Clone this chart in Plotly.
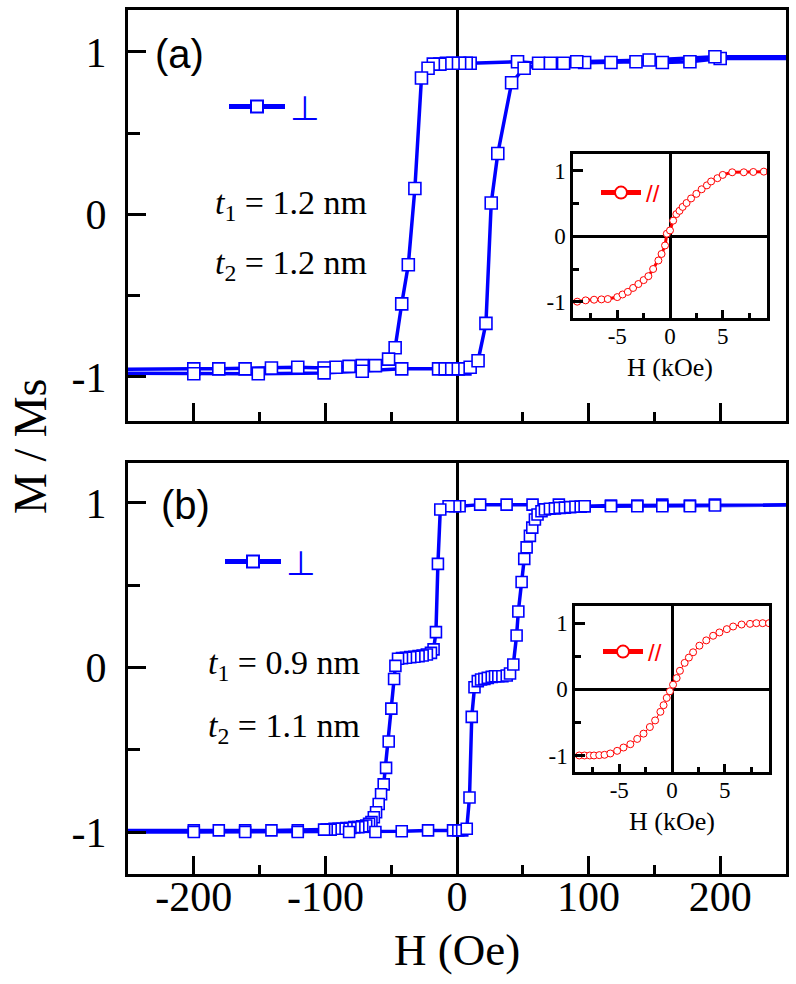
import plotly.graph_objects as go

# ---------------- data ----------------
# panel (a): perpendicular loop, descending branch (from +H to -H)
H_a_dn = [300, 200, 177, 156, 136, 117, 97, 81, 62, 46, 10, 7, 2, -3, -8, -13, -18, -22, -27,
          -32, -37, -42, -47, -52, -62, -72, -82, -92, -101, -121, -141, -161, -181, -200, -300]
M_a_dn = [0.96, 0.96, 0.94, 0.935, 0.94, 0.935, 0.935, 0.93, 0.93, 0.94, 0.93, 0.93, 0.93, 0.93,
          0.93, 0.925, 0.925, 0.90, 0.84, 0.16, -0.31, -0.55, -0.82, -0.89, -0.93, -0.93, -0.935,
          -0.94, -0.945, -0.94, -0.945, -0.95, -0.95, -0.95, -0.955]
# panel (a): ascending branch (from -H to +H)
H_a_up = [-300, -200, -151, -101, -72, -42, -14, -9, -4, 1, 6, 10, 16, 22, 26, 31, 41.5, 51,
          71, 91, 146, 196, 300]
M_a_up = [-0.975, -0.98, -0.98, -0.975, -0.965, -0.95, -0.95, -0.95, -0.95, -0.95, -0.95, -0.94,
          -0.90, -0.67, 0.07, 0.375, 0.81, 0.90, 0.93, 0.94, 0.95, 0.97, 0.97]

# panel (b): descending branch
H_b_dn = [300, 196, 177, 156, 137, 117, 97, 77.4, 57.4, 37.7, 17.6, 2, -1.4, -6.4, -12.7, -14.5,
          -16.0, -17.8, -19.8, -22.9, -26.1, -29.2, -32.4, -35.5, -38.8, -41.8, -44.8, -46.8,
          -47.8, -49.9, -51.9, -53.9, -55.7, -57.7, -59.5, -61.5, -63.2, -65.0, -66.8, -69, -72,
          -75, -78, -81, -84, -87, -90, -93, -96, -99, -101, -121, -141, -161, -181, -200, -300]
M_b_dn = [0.99, 0.99, 0.985, 0.99, 0.985, 0.985, 0.98, 0.99, 0.99, 0.99, 0.99, 0.98, 0.98, 0.98,
          0.96, 0.63, 0.215, 0.11, 0.089, 0.079, 0.073, 0.069, 0.065, 0.063, 0.059, 0.057, 0.053,
          0.01, -0.07, -0.25, -0.45, -0.61, -0.71, -0.77, -0.83, -0.88, -0.91, -0.94, -0.95,
          -0.96, -0.965, -0.97, -0.97, -0.975, -0.975, -0.98, -0.98, -0.98, -0.985, -0.985,
          -0.985, -0.99, -0.99, -0.99, -0.99, -0.99, -0.99]
# panel (b): ascending branch
H_b_up = [-300, -200, -161, -121, -82, -62, -42, -22, -3, 1, 4, 7.4, 9.5, 11.2, 13.3, 15.8, 18.3,
          20.8, 23.4, 26.4, 28.9, 31.4, 34.5, 37.8, 40.3, 42.8, 45.3, 46.6, 49.1, 51.1, 52.9,
          55.4, 57.2, 59.2, 61.2, 64.2, 66.8, 70.6, 74.4, 78, 82, 86, 90, 94, 97, 117, 137, 156,
          177, 196, 300]
M_b_up = [-1.0, -1.0, -1.0, -1.0, -1.0, -1.0, -0.995, -0.99, -0.99, -0.99, -0.99, -0.98, -0.79,
          -0.30, -0.12, -0.083, -0.073, -0.069, -0.063, -0.057, -0.053, -0.053, -0.053, -0.049,
          -0.036, 0.018, 0.195, 0.34, 0.52, 0.66, 0.73, 0.80, 0.85, 0.90, 0.93, 0.95, 0.96,
          0.965, 0.967, 0.97, 0.972, 0.975, 0.977, 0.978, 0.98, 0.98, 0.98, 0.98, 0.98, 0.985,
          0.99]

# insets: in-plane loops (kOe)
H_ia = [-9.5, -8.8, -8.0, -7.2, -6.5, -5.9, -5.0, -4.5, -4.0, -3.5, -3.0, -2.5, -2.05, -1.6, -1.1,
        -0.8, -0.47, -0.3, 0, 0.3, 0.6, 0.9, 1.2, 1.57, 2.0, 2.5, 3.0, 3.5, 3.9, 4.5, 5.0, 5.9,
        7.0, 7.9, 8.9, 9.5]
M_ia = [-1.0, -1.0, -0.98, -0.97, -0.965, -0.96, -0.93, -0.89, -0.85, -0.79, -0.73, -0.67, -0.61,
        -0.5, -0.37, -0.27, -0.14, 0.04, 0.09, 0.24, 0.34, 0.39, 0.45, 0.51, 0.58, 0.65, 0.72,
        0.78, 0.84, 0.89, 0.94, 0.98, 0.98, 0.985, 0.99, 0.99]
H_ib = [-9.5, -8.8, -8.3, -7.8, -7.4, -6.9, -6.4, -5.85, -5.2, -4.6, -3.95, -3.3, -2.7, -2.1, -1.6,
        -1.1, -0.8, -0.5, -0.2, 0.1, 0.44, 0.75, 1.2, 1.6, 2.0, 2.6, 3.25, 3.9, 4.5, 5.2, 5.8, 6.6,
        7.4, 8.0, 8.6, 9.2]
M_ib = [-1.0, -1.0, -1.0, -1.0, -1.0, -0.995, -0.99, -0.97, -0.93, -0.88, -0.83, -0.75, -0.67,
        -0.57, -0.47, -0.34, -0.24, -0.13, -0.03, 0.07, 0.17, 0.28, 0.40, 0.48, 0.56, 0.66, 0.74,
        0.81, 0.86, 0.91, 0.95, 0.98, 0.99, 1.0, 1.0, 1.0]

# tick labels
x_main_ticks = [-200, -100, 0, 100, 200]
x_main_labels = ["-200", "-100", "0", "100", "200"]
y_ticks = [-1, 0, 1]
y_labels = ["-1", "0", "1"]
x_in_ticks = [-5, 0, 5]
x_in_labels = ["-5", "0", "5"]

BLUE = "#0000ff"
RED = "#ff0000"
SERIF = "Liberation Serif"

fig = go.Figure()

fig.add_trace(go.Scatter(
    x=H_a_dn + H_a_up, y=M_a_dn + M_a_up, mode="lines+markers", name="⊥",
    line=dict(color=BLUE, width=3.5),
    marker=dict(symbol="square", size=12, color="white", line=dict(color=BLUE, width=1.6)),
    xaxis="x", yaxis="y", legend="legend"))
fig.add_trace(go.Scatter(
    x=H_b_dn + H_b_up, y=M_b_dn + M_b_up, mode="lines+markers", name="⊥",
    line=dict(color=BLUE, width=3.5),
    marker=dict(symbol="square", size=11, color="white", line=dict(color=BLUE, width=1.6)),
    xaxis="x2", yaxis="y2", legend="legend2"))
fig.add_trace(go.Scatter(
    x=H_ia, y=M_ia, mode="lines+markers", name="//",
    line=dict(color=RED, width=3),
    marker=dict(symbol="circle", size=7, color="white", line=dict(color=RED, width=1)),
    xaxis="x3", yaxis="y3", legend="legend3"))
fig.add_trace(go.Scatter(
    x=H_ib, y=M_ib, mode="lines+markers", name="//",
    line=dict(color=RED, width=1),
    marker=dict(symbol="circle", size=7, color="white", line=dict(color=RED, width=1)),
    xaxis="x4", yaxis="y4", legend="legend4"))

W, H = 796, 984


def px_x(p):
    return p / W


def px_y(p):
    return 1 - p / H


main_x = dict(range=[-250, 250], showline=True, linecolor="black", linewidth=3, mirror=True,
              ticks="inside", ticklen=18, tickwidth=3, tickcolor="black", automargin=False,
              tickvals=x_main_ticks, ticktext=x_main_labels, ticklabelstandoff=-16,
              minor=dict(ticks="inside", ticklen=9, tickwidth=3, tickcolor="black",
                         tickvals=[-150, -50, 50, 150], showgrid=False),
              showgrid=False, zeroline=True, zerolinecolor="black", zerolinewidth=3,
              tickfont=dict(family=SERIF, size=42, color="black"))
main_y = dict(showline=True, linecolor="black", linewidth=3, mirror=True, automargin=False,
              ticks="inside", ticklen=18, tickwidth=3, tickcolor="black",
              tickvals=y_ticks, ticktext=y_labels, ticklabelstandoff=10,
              minor=dict(ticks="inside", ticklen=12, tickwidth=3, tickcolor="black",
                         tickvals=[-0.5, 0.5], showgrid=False),
              showgrid=False, zeroline=False,
              tickfont=dict(family=SERIF, size=42, color="black"))
in_x = dict(range=[-9.2, 9.2], showline=True, linecolor="black", linewidth=2.5, mirror=True,
            ticks="inside", ticklen=8, tickwidth=2.5, tickcolor="black", automargin=False,
            tickvals=x_in_ticks, ticktext=x_in_labels, ticklabelstandoff=-4,
            minor=dict(ticks="inside", ticklen=5, tickwidth=2.5, tickcolor="black",
                       tickvals=[-7.5, -2.5, 2.5, 7.5], showgrid=False),
            showgrid=False, zeroline=True, zerolinecolor="black", zerolinewidth=2.5,
            tickfont=dict(family=SERIF, size=23, color="black"),
            title=dict(text="H (kOe)", font=dict(family=SERIF, size=26, color="black"), standoff=10))
in_y = dict(range=[-1.25, 1.26], showline=True, linecolor="black", linewidth=2.5, mirror=True,
            ticks="inside", ticklen=10, tickwidth=2.5, tickcolor="black", automargin=False,
            tickvals=y_ticks, ticktext=y_labels,
            minor=dict(ticks="inside", ticklen=6, tickwidth=2.5, tickcolor="black",
                       tickvals=[-0.5, 0.5], showgrid=False),
            showgrid=False, zeroline=True, zerolinecolor="black", zerolinewidth=2.5,
            tickfont=dict(family=SERIF, size=23, color="black"))

fig.update_layout(
    width=W, height=H, margin=dict(l=0, r=0, t=0, b=0, autoexpand=False),
    paper_bgcolor="white", plot_bgcolor="white",
    xaxis=dict(main_x, domain=[px_x(128), px_x(786)], anchor="y", showticklabels=False),
    yaxis=dict(main_y, domain=[px_y(421), px_y(10)], anchor="x", range=[-1.271, 1.258]),
    xaxis2=dict(main_x, domain=[px_x(128), px_x(786)], anchor="y2"),
    yaxis2=dict(main_y, domain=[px_y(874), px_y(463)], anchor="x2", range=[-1.255, 1.243]),
    xaxis3=dict(in_x, domain=[px_x(573), px_x(767)], anchor="y3"),
    yaxis3=dict(in_y, domain=[px_y(318), px_y(154)], anchor="x3"),
    xaxis4=dict(in_x, domain=[px_x(575), px_x(769)], anchor="y4"),
    yaxis4=dict(in_y, domain=[px_y(772), px_y(606)], anchor="x4"),
    legend=dict(x=px_x(224), y=px_y(107), xanchor="left", yanchor="middle",
                bgcolor="rgba(0,0,0,0)", itemsizing="constant", itemwidth=56,
                font=dict(family="DejaVu Sans", size=34, color=BLUE)),
    legend2=dict(x=px_x(220), y=px_y(562), xanchor="left", yanchor="middle",
                 bgcolor="rgba(0,0,0,0)", itemsizing="constant", itemwidth=56,
                 font=dict(family="DejaVu Sans", size=34, color=BLUE)),
    legend3=dict(x=px_x(596), y=px_y(193), xanchor="left", yanchor="middle",
                 bgcolor="rgba(0,0,0,0)", itemsizing="constant", itemwidth=40,
                 font=dict(family="Liberation Sans", size=24, color=RED)),
    legend4=dict(x=px_x(598), y=px_y(652), xanchor="left", yanchor="middle",
                 bgcolor="rgba(0,0,0,0)", itemsizing="constant", itemwidth=40,
                 font=dict(family="Liberation Sans", size=24, color=RED)),
    showlegend=True,
)

ann_font = dict(family=SERIF, size=34, color="black")
annotations = [
    dict(text="(a)", x=px_x(179), y=px_y(54), font=dict(family="Liberation Sans", size=40, color="black")),
    dict(text="(b)", x=px_x(185), y=px_y(505), font=dict(family="Liberation Sans", size=40, color="black")),
    dict(text="<i>t</i><sub>1</sub> = 1.2 nm", x=px_x(213), y=px_y(205), xanchor="left", font=ann_font),
    dict(text="<i>t</i><sub>2</sub> = 1.2 nm", x=px_x(213), y=px_y(265), xanchor="left", font=ann_font),
    dict(text="<i>t</i><sub>1</sub> = 0.9 nm", x=px_x(206), y=px_y(665), xanchor="left", font=ann_font),
    dict(text="<i>t</i><sub>2</sub> = 1.1 nm", x=px_x(206), y=px_y(728), xanchor="left", font=ann_font),
    dict(text="M / Ms", x=px_x(30), y=px_y(447), textangle=-90,
         font=dict(family=SERIF, size=46, color="black")),
    dict(text="H (Oe)", x=px_x(457), y=px_y(950), font=dict(family=SERIF, size=45, color="black")),
]
for a in annotations:
    a.update(xref="paper", yref="paper", showarrow=False)
    a.setdefault("xanchor", "center")
    a.setdefault("yanchor", "middle")
fig.update_layout(annotations=annotations)

fig.write_html("out.html", config={"displayModeBar": False},
               post_script="document.body.style.margin='0';document.body.style.overflow='hidden';")
